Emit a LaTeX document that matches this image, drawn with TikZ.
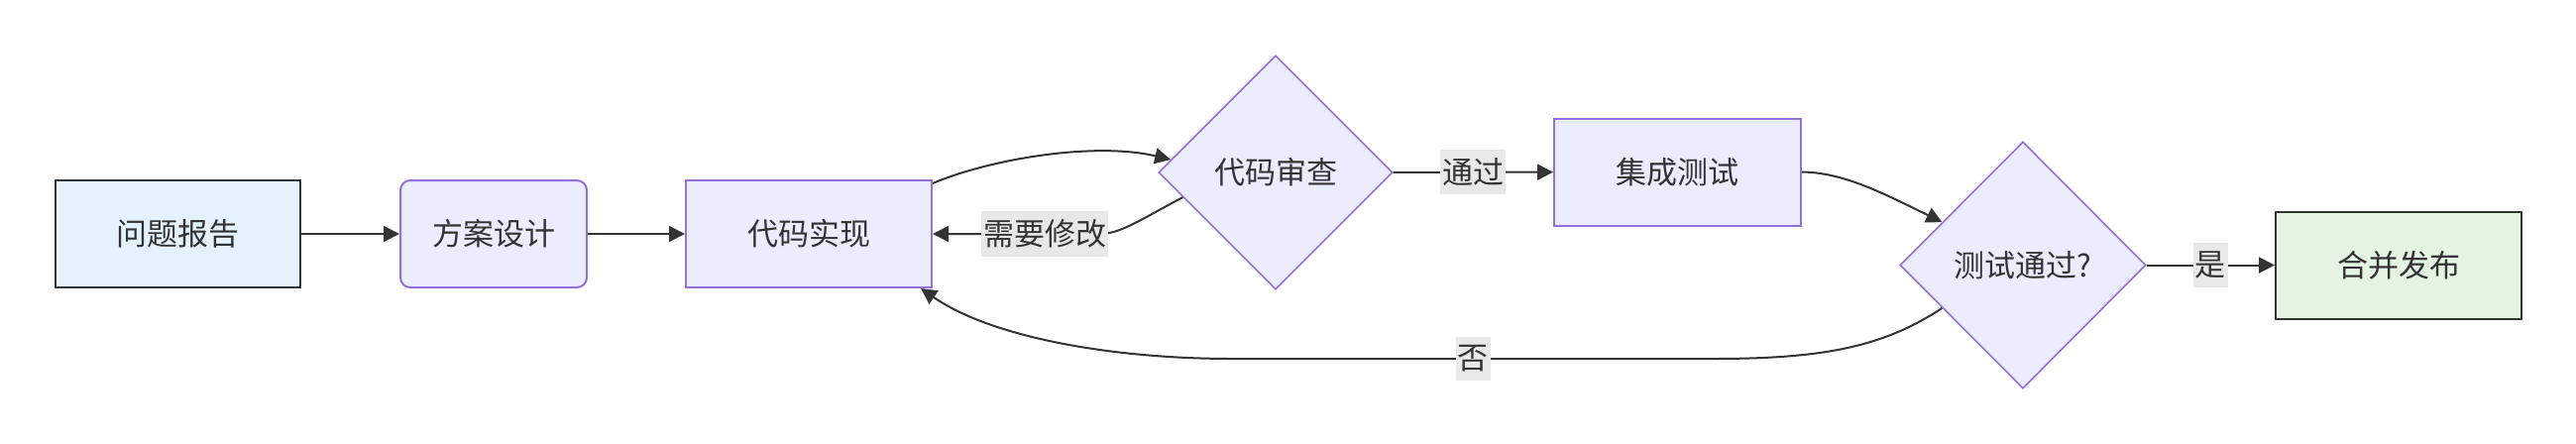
\documentclass[tikz,border=0pt]{standalone}
\usepackage{fontspec}
\setmainfont{Noto Sans CJK SC}
\usetikzlibrary{arrows.meta,shapes.geometric,calc}

\definecolor{ink}{HTML}{333333}
\definecolor{lavender}{HTML}{ECECFF}
\definecolor{violetline}{HTML}{9370DB}
\definecolor{startblue}{HTML}{E3F2FD}
\definecolor{donegreen}{HTML}{E4F5E4}
\definecolor{lblgray}{HTML}{E8E8E8}

\begin{document}
\begin{tikzpicture}[x=0.5pt, y=-0.5pt,
    font=\fontsize{15.5pt}{18pt}\selectfont,
    every node/.append style={text=ink},
    box/.style={draw=violetline, fill=lavender, line width=1pt, minimum width=124pt, minimum height=54pt, inner sep=0pt},
    choice/.style={diamond, aspect=1, draw=violetline, fill=lavender, line width=0.8pt, inner sep=0pt},
    lbl/.style={fill=lblgray, inner xsep=1pt, inner ysep=4.25pt},
    flow/.style={draw=ink, line width=1pt, -{Triangle[length=8pt,width=8pt]}}]
    \useasboundingbox (0,0) rectangle (2599,447);

    % Steps
    \node[box, draw=ink, fill=startblue, minimum width=123.5pt] (report) at (179.5,236) {问题报告};
    \node[box, rounded corners=5pt, minimum width=94pt] (design) at (498,236) {方案设计};
    \node[box] (impl) at (816,236) {代码实现};
    \node[choice, minimum width=118pt, minimum height=118pt] (review) at (1287,174) {代码审查};
    \node[box, minimum width=124.5pt] (integ) at (1692.5,173.5) {集成测试};
    \node[choice, minimum width=124pt, minimum height=124.5pt] (test) at (2041,267.5) {测试通过?};
    \node[box, draw=ink, fill=donegreen] (merge) at (2420,267.5) {合并发布};

    % Forward edges
    \draw[flow] (report) -- (design);
    \draw[flow] (design) -- (impl);
    \draw[flow] ($(impl.north east)+(0,4)$) .. controls (1000,160) and (1105,143) .. (review.173.5);
    \draw[flow] (review) -- node[lbl] {通过} (integ);
    \draw[flow] (integ.east) .. controls (1860,174) and (1900,195) .. (test.152);
    \draw[flow] (test) -- node[lbl] {是} (merge);

    % Back edges
    \draw[flow] (review.195) .. controls (1150,222) and (1130,236) .. (1110,236)
        -- node[lbl, pos=0.33] {需要修改} (impl.east);
    \draw[flow] (test.208) .. controls (1900,350) and (1840,362) .. (1728,362)
        -- node[lbl] {否} (1244,362)
        .. controls (1120,362) and (1000,340) .. ($(impl.south east)+(-12,0)$);
\end{tikzpicture}
\end{document}
